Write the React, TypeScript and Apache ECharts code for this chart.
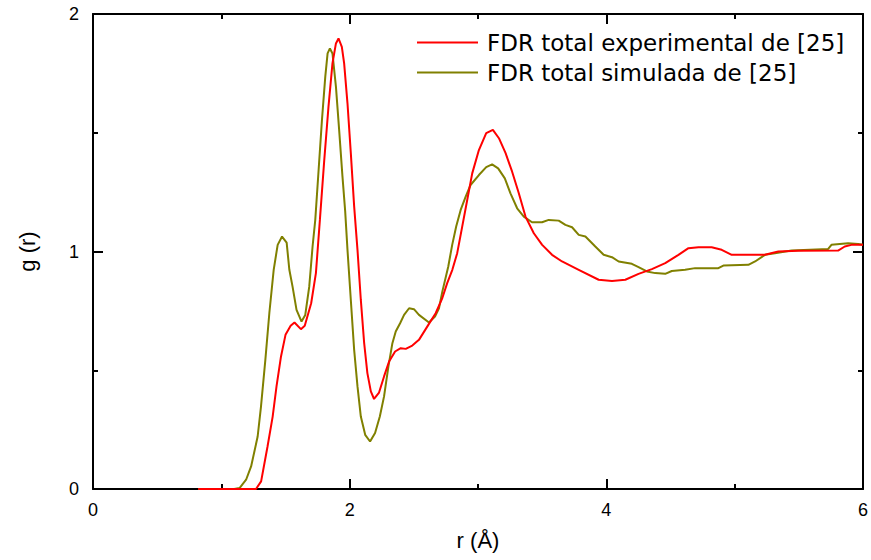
import React, { useEffect, useRef } from "react";
import * as echarts from "echarts";

const seriesNames = ["FDR total experimental de [25]", "FDR total simulada de [25]"];

const rExp = [0.82, 1.0, 1.1, 1.27, 1.31, 1.36, 1.4, 1.43, 1.465, 1.5, 1.54, 1.57, 1.62, 1.65, 1.7, 1.737, 1.768, 1.802, 1.835, 1.866, 1.893, 1.913, 1.939, 1.957, 1.983, 2.009, 2.035, 2.061, 2.087, 2.113, 2.138, 2.165, 2.19, 2.229, 2.268, 2.307, 2.354, 2.398, 2.437, 2.488, 2.54, 2.613, 2.67, 2.722, 2.76, 2.8, 2.838, 2.877, 2.916, 2.955, 3.007, 3.064, 3.116, 3.163, 3.215, 3.266, 3.318, 3.37, 3.435, 3.5, 3.577, 3.655, 3.785, 3.94, 4.044, 4.148, 4.251, 4.355, 4.459, 4.562, 4.64, 4.718, 4.821, 4.899, 4.977, 5.236, 5.34, 5.495, 5.806, 5.858, 5.91, 6.0];
const gExp = [0, 0, 0, 0, 0.032, 0.179, 0.305, 0.432, 0.558, 0.649, 0.687, 0.701, 0.673, 0.687, 0.782, 0.909, 1.133, 1.385, 1.61, 1.792, 1.876, 1.897, 1.862, 1.792, 1.624, 1.414, 1.19, 1.007, 0.796, 0.614, 0.488, 0.411, 0.379, 0.406, 0.474, 0.537, 0.579, 0.593, 0.59, 0.604, 0.628, 0.691, 0.74, 0.804, 0.867, 0.923, 0.993, 1.105, 1.217, 1.329, 1.427, 1.498, 1.512, 1.477, 1.414, 1.336, 1.245, 1.147, 1.077, 1.028, 0.986, 0.958, 0.923, 0.881, 0.876, 0.881, 0.906, 0.926, 0.951, 0.986, 1.014, 1.018, 1.018, 1.007, 0.986, 0.986, 1.0, 1.003, 1.004, 1.021, 1.028, 1.028];

const rSim = [0.82, 1.1, 1.142, 1.193, 1.232, 1.283, 1.309, 1.343, 1.374, 1.408, 1.439, 1.473, 1.509, 1.53, 1.555, 1.586, 1.625, 1.654, 1.685, 1.711, 1.732, 1.758, 1.784, 1.81, 1.828, 1.846, 1.866, 1.893, 1.918, 1.944, 1.965, 1.983, 2.009, 2.035, 2.061, 2.087, 2.121, 2.159, 2.198, 2.235, 2.268, 2.302, 2.333, 2.359, 2.393, 2.424, 2.463, 2.501, 2.54, 2.618, 2.665, 2.696, 2.722, 2.768, 2.799, 2.83, 2.865, 2.904, 2.942, 3.007, 3.064, 3.11, 3.157, 3.209, 3.253, 3.305, 3.357, 3.421, 3.499, 3.551, 3.629, 3.681, 3.733, 3.785, 3.837, 3.914, 3.979, 4.044, 4.096, 4.199, 4.251, 4.316, 4.381, 4.459, 4.51, 4.614, 4.692, 4.873, 4.912, 5.107, 5.159, 5.236, 5.314, 5.443, 5.729, 5.754, 5.884, 5.962, 6.0];
const gSim = [0, 0, 0.004, 0.039, 0.095, 0.221, 0.347, 0.544, 0.74, 0.923, 1.028, 1.063, 1.037, 0.923, 0.852, 0.754, 0.705, 0.733, 0.852, 1.021, 1.133, 1.343, 1.553, 1.736, 1.834, 1.855, 1.834, 1.694, 1.512, 1.315, 1.17, 1.007, 0.796, 0.586, 0.432, 0.305, 0.228, 0.2, 0.236, 0.305, 0.39, 0.516, 0.614, 0.663, 0.698, 0.733, 0.761, 0.757, 0.733, 0.701, 0.726, 0.761, 0.831, 0.936, 1.028, 1.105, 1.175, 1.231, 1.28, 1.322, 1.355, 1.367, 1.35, 1.308, 1.245, 1.182, 1.147, 1.123, 1.123, 1.133, 1.13, 1.112, 1.102, 1.07, 1.063, 1.021, 0.986, 0.976, 0.958, 0.948, 0.934, 0.916, 0.909, 0.906, 0.918, 0.923, 0.93, 0.93, 0.941, 0.944, 0.958, 0.986, 0.993, 1.004, 1.011, 1.028, 1.035, 1.032, 1.028];

const xAxisName = "r (Å)";
const yAxisName = "g (r)";

const FONT = "Liberation Sans, Arial, sans-serif";

export default function App() {
  const ref = useRef<HTMLDivElement>(null);
  useEffect(() => {
    if (!ref.current) return;
    const chart = echarts.init(ref.current, null, { renderer: "svg" });
    const expData = rExp.map((x, i) => [x, gExp[i]]);
    const simData = rSim.map((x, i) => [x, gSim[i]]);
    const mkLine = () => ({ show: true, onZero: false, lineStyle: { color: "#000", width: 2 } });
    const mkTick = () => ({ show: true, inside: true, length: 10, lineStyle: { color: "#000", width: 2 } });
    const mkMinor = () => ({ show: true, splitNumber: 2, length: 5, lineStyle: { color: "#000", width: 2 } });
    chart.setOption({
      animation: false,
      backgroundColor: "#fff",
      grid: { left: 93, right: 6, top: 14, bottom: 71, containLabel: false },
      legend: {
        orient: "vertical",
        left: 412,
        top: 26,
        icon: "rect",
        itemWidth: 61,
        itemHeight: 2,
        itemGap: 7,
        data: seriesNames,
        textStyle: {
          fontFamily: "DejaVu Sans, sans-serif",
          fontSize: 23,
          lineHeight: 23,
          color: "#000",
          padding: [0, 0, 0, 4],
        },
      },
      xAxis: [
        {
          type: "value",
          min: 0,
          max: 6,
          interval: 2,
          position: "bottom",
          axisLine: mkLine(),
          axisTick: mkTick(),
          minorTick: mkMinor(),
          splitLine: { show: false },
          axisLabel: { fontFamily: FONT, fontSize: 18, color: "#000", margin: 12 },
          name: xAxisName,
          nameLocation: "middle",
          nameGap: 40,
          nameTextStyle: { fontFamily: FONT, fontSize: 22, color: "#000" },
        },
        {
          type: "value",
          min: 0,
          max: 6,
          interval: 2,
          position: "top",
          axisLine: mkLine(),
          axisTick: mkTick(),
          minorTick: mkMinor(),
          splitLine: { show: false },
          axisLabel: { show: false },
        },
      ],
      yAxis: [
        {
          type: "value",
          min: 0,
          max: 2,
          interval: 1,
          position: "left",
          axisLine: mkLine(),
          axisTick: mkTick(),
          minorTick: mkMinor(),
          splitLine: { show: false },
          axisLabel: { fontFamily: FONT, fontSize: 18, color: "#000", margin: 14 },
          name: yAxisName,
          nameLocation: "middle",
          nameGap: 55,
          nameTextStyle: { fontFamily: FONT, fontSize: 22, color: "#000" },
        },
        {
          type: "value",
          min: 0,
          max: 2,
          interval: 1,
          position: "right",
          axisLine: mkLine(),
          axisTick: mkTick(),
          minorTick: mkMinor(),
          splitLine: { show: false },
          axisLabel: { show: false },
        },
      ],
      series: [
        {
          name: seriesNames[1],
          type: "line",
          data: simData,
          showSymbol: false,
          symbol: "none",
          color: "#808000",
          lineStyle: { color: "#808000", width: 2 },
          z: 2,
        },
        {
          name: seriesNames[0],
          type: "line",
          data: expData,
          showSymbol: false,
          symbol: "none",
          color: "#ff0000",
          lineStyle: { color: "#ff0000", width: 2 },
          z: 3,
        },
      ],
    });
    return () => chart.dispose();
  }, []);
  return (
    <div
      ref={ref}
      style={{ position: "fixed", left: 0, top: 0, width: 871, height: 560, background: "#fff" }}
    />
  );
}
